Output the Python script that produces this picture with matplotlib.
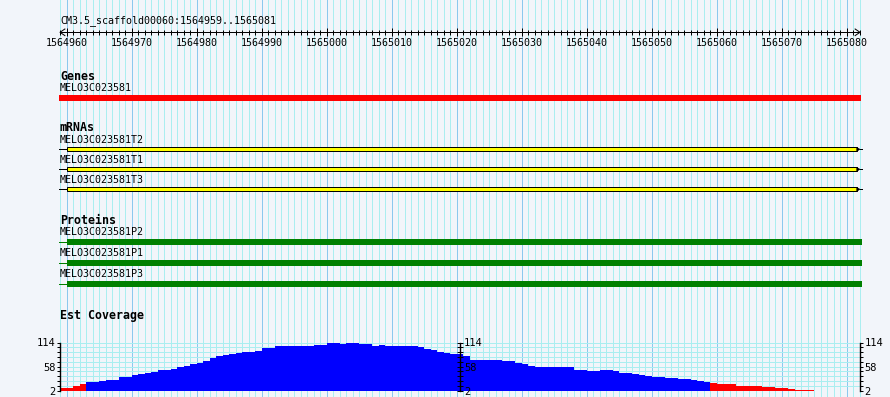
import numpy as np
import matplotlib
matplotlib.use("Agg")
import matplotlib.pyplot as plt
from matplotlib.patches import Rectangle, Polygon
from matplotlib.ticker import MultipleLocator, FixedLocator, StrMethodFormatter

plt.rcParams['font.family'] = 'DejaVu Sans Mono'

# region shown
region_name = "CM3.5_scaffold00060"
region_start = 1564959
region_end = 1565081

# features
gene_names = ["MELO3C023581"]
gene_starts = [1564959]
gene_ends = [1565081]

mrna_names = ["MELO3C023581T2", "MELO3C023581T1", "MELO3C023581T3"]
mrna_starts = [1564959, 1564959, 1564959]
mrna_cds_starts = [1564960, 1564960, 1564960]
mrna_ends = [1565081, 1565081, 1565081]

protein_names = ["MELO3C023581P2", "MELO3C023581P1", "MELO3C023581P3"]
protein_starts = [1564959, 1564959, 1564959]
protein_cds_starts = [1564960, 1564960, 1564960]
protein_ends = [1565081, 1565081, 1565081]

# EST coverage, one value per base from region_start
coverage = [
    9, 9, 14, 18, 22, 22, 25, 28, 28, 34,
    34, 39, 41, 44, 46, 51, 51, 53, 57, 60,
    64, 67, 72, 78, 82, 85, 87, 89, 92, 92,
    94, 101, 101, 105, 105, 105, 105, 105, 105, 108,
    108, 112, 114, 110, 112, 112, 110, 110, 106, 108,
    106, 106, 106, 106, 106, 103, 100, 96, 93, 90,
    88, 88, 82, 73, 73, 73, 73, 73, 71, 71,
    67, 64, 59, 57, 57, 57, 57, 57, 57, 51,
    51, 48, 48, 51, 51, 47, 43, 43, 41, 38,
    36, 34, 34, 32, 32, 30, 30, 28, 24, 22,
    19, 17, 17, 17, 14, 14, 14, 14, 11, 11,
    9, 9, 7, 4, 4, 4,
]
cov_min, cov_max = 2, 114
cov_labels = [2, 58, 114]
low_cov = 20

bg = "#f2f5fa"
grid_minor = "#aaeef0"
grid_major = "#8cc8ee"
px = 0.72  # one pixel in points

W, H = 890, 397
left_px, track_px = 60, 800
span = region_end - region_start + 1
bp_px = track_px / span

fig = plt.figure(figsize=(W / 100, H / 100), dpi=100, facecolor=bg)
ax = fig.add_axes([0, 0, 1, 1])
ax.set_facecolor(bg)
ax.set_xlim(region_start - left_px / bp_px, region_start + (W - left_px) / bp_px)
ax.set_ylim(H, 0)
ax.axis("off")

# vertical grid, one line per base
for p in range(region_start, region_end + 2):
    c = grid_major if p % 10 == 0 else grid_minor
    ax.vlines(p, 0, H, color=c, lw=px, zorder=0, antialiased=False)

ax.text(region_start, 21, f"{region_name}:{region_start}..{region_end}",
        fontsize=7.2, va="center", ha="left")

# ruler
ruler_y = 32.3
axr = fig.add_axes([left_px / W, 1 - ruler_y / H, track_px / W, 1e-4])
axr.patch.set_visible(False)
axr.set_xlim(region_start, region_end + 1)
axr.set_yticks([])
for s in ["top", "left", "right"]:
    axr.spines[s].set_visible(False)
axr.spines["bottom"].set_linewidth(px)
axr.xaxis.set_major_locator(MultipleLocator(10))
axr.xaxis.set_minor_locator(MultipleLocator(1))
axr.xaxis.set_major_formatter(StrMethodFormatter("{x:.0f}"))
axr.tick_params(axis="x", which="major", direction="inout", length=6.3,
                width=px, pad=0.6, labelsize=7.2)
axr.tick_params(axis="x", which="minor", direction="inout", length=3.6, width=px)
a0, a1 = region_start, region_end + 1
ax.plot([a0 + 0.75, a0, a0 + 0.75], [ruler_y - 3.3, ruler_y, ruler_y + 3.3], color="black", lw=px)
ax.plot([a1 - 0.75, a1, a1 - 0.75], [ruler_y - 3.3, ruler_y, ruler_y + 3.3], color="black", lw=px)

# Genes
ax.text(region_start, 76, "Genes", fontsize=8.4, weight="bold", va="center")
for i, name in enumerate(gene_names):
    yc = 97.8 + 20 * i
    ax.text(region_start, yc - 9.8, name, fontsize=7.2, va="center")
    ax.broken_barh([(gene_starts[i] - 0.15, gene_ends[i] + 1.3 - gene_starts[i])],
                   (yc - 3, 6), facecolors="red", zorder=2)

# mRNAs
ax.text(region_start, 127.7, "mRNAs", fontsize=8.4, weight="bold", va="center")
for i, name in enumerate(mrna_names):
    yc = 149.3 + 20 * i
    ax.text(region_start, yc - 9.3, name, fontsize=7.2, va="center")
    ax.plot([mrna_starts[i] - 0.15, mrna_cds_starts[i]], [yc, yc], color="black", lw=px, zorder=2)
    end = mrna_ends[i] + 1
    ax.add_patch(Rectangle((mrna_cds_starts[i], yc - 2), end - 0.5 - mrna_cds_starts[i], 4,
                           facecolor="yellow", edgecolor="black", lw=px, zorder=2))
    ax.add_patch(Polygon([(end - 0.5, yc - 2), (end - 0.5, yc + 2), (end, yc)],
                         closed=True, facecolor="black", edgecolor="black", lw=px * 0.5, zorder=2))
    ax.plot([end, end + 0.3], [yc, yc], color="black", lw=px, zorder=2)

# Proteins
ax.text(region_start, 220, "Proteins", fontsize=8.4, weight="bold", va="center")
for i, name in enumerate(protein_names):
    yc = 241.7 + 21 * i
    ax.text(region_start, yc - 10, name, fontsize=7.2, va="center")
    ax.plot([protein_starts[i] - 0.15, protein_cds_starts[i]], [yc, yc], color="green", lw=px, zorder=2)
    ax.broken_barh([(protein_cds_starts[i], protein_ends[i] + 1.25 - protein_cds_starts[i])],
                   (yc - 3, 6), facecolors="green", zorder=2)

# Est coverage
ax.text(region_start, 315, "Est Coverage", fontsize=8.4, weight="bold", va="center")
cov_top, cov_bot = 342.5, 390.7
axc = fig.add_axes([left_px / W, 1 - cov_bot / H, track_px / W, (cov_bot - cov_top) / H])
axc.patch.set_visible(False)
axc.set_xlim(region_start, region_end + 1)
axc.set_ylim(cov_min, cov_max)
xs = region_start + np.arange(len(coverage))
colors = ["red" if v < low_cov else "blue" for v in coverage]
axc.bar(xs, coverage, width=1, align="edge", color=colors, lw=0, zorder=3)

minor_ticks = np.linspace(cov_min, cov_max, 11)
for yv in minor_ticks:
    axc.axhline(yv, color=grid_minor, lw=px if yv < cov_max else 2 * px, zorder=1,
                antialiased=False)
axc.set_xticks([])
for s in ["top", "right", "bottom"]:
    axc.spines[s].set_visible(False)
axc.spines["left"].set_linewidth(1.0)
axc.spines["left"].set_zorder(5)
axc.yaxis.set_major_locator(FixedLocator(cov_labels))
axc.yaxis.set_minor_locator(FixedLocator(minor_ticks))
axc.tick_params(axis="y", which="both", direction="out", length=2.4, width=px,
                labelsize=7.5, pad=0.8)

for loc, direction in [(0.5, "inout"), ("right", "out")]:
    sec = axc.secondary_yaxis(loc)
    sec.set_zorder(6)
    sec.set_yticks(cov_labels)
    sec.yaxis.set_minor_locator(FixedLocator(minor_ticks))
    for s in sec.spines.values():
        s.set_linewidth(1.0)
    sec.tick_params(axis="y", which="both", direction=direction,
                    length=2.4 if direction == "out" else 4,
                    width=px, labelsize=7.5, pad=0.8)

fig.savefig("out.png", dpi=100, facecolor=bg)
